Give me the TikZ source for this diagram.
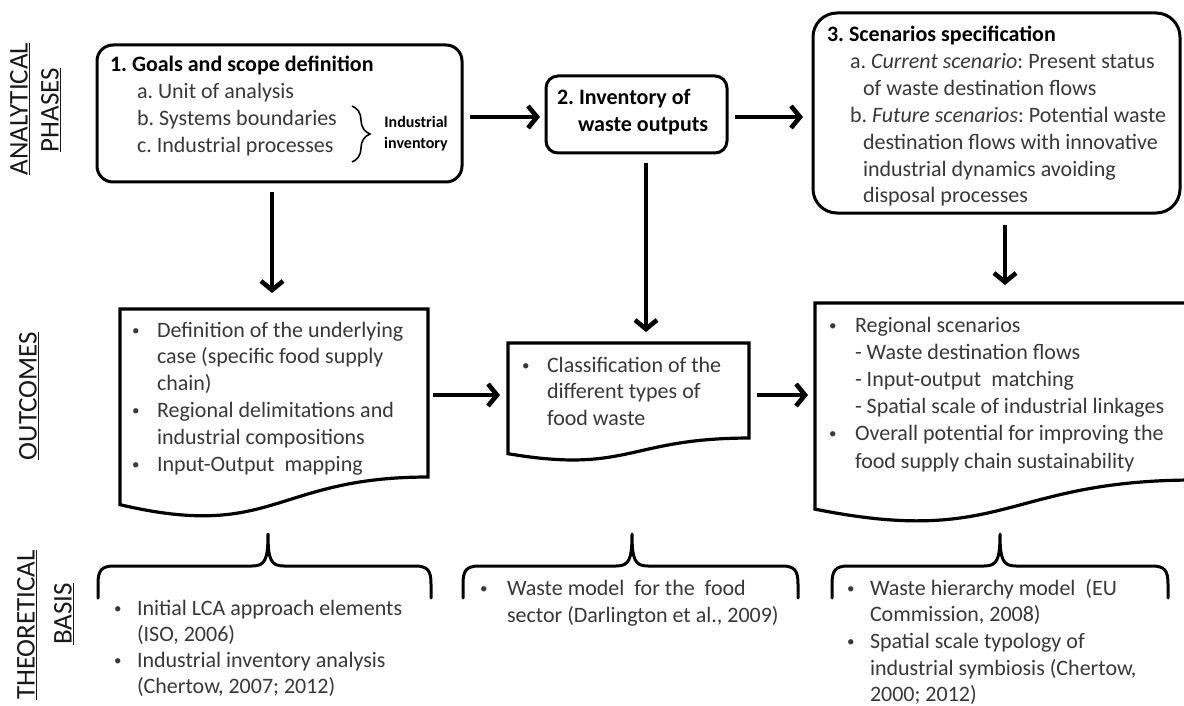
\documentclass[tikz,border=0pt]{standalone}
\usepackage{fontspec}
\setmainfont{Carlito}
\usetikzlibrary{arrows.meta,calc,decorations.pathreplacing}
\definecolor{txt}{HTML}{383838}
\frenchspacing
\newcommand{\bul}{\raisebox{2pt}{\fontsize{15}{15}\selectfont\textbullet}}
\tikzset{
  every node/.style={inner sep=0pt, outer sep=0pt},
  rbox/.style={draw=black, line width=3pt, rounded corners=#1, anchor=north west},
  docarea/.style={anchor=north west},
  docline/.style={draw=black, line width=3.2pt, line join=miter},
  arr/.style={line width=4.6pt, -{Straight Barb[length=9pt,width=22pt]}},
  brc/.style={draw=black, line width=3pt, line cap=round, line join=round},
  bodytxt/.style={font=\fontsize{22}{26.8}\selectfont, text=txt, anchor=base west, align=left},
  ttltxt/.style={font=\fontsize{22}{27}\selectfont\bfseries, text=black, anchor=base west},
  sidelbl/.style={font=\fontsize{27}{30}\selectfont, rotate=90, text=black!90},
}
\newcommand{\docshape}[5]{%
  \node[docarea, minimum width=#4pt, minimum height=#5pt] (#1) at (#2,#3) {};
  \draw[docline] (#1.north west) -- (#1.north east)
    -- ($(#1.north east)!0.802!(#1.south east)$)
    .. controls ($(#1.north)!0.802!(#1.south)$) and ($(#1.north)!1.107!(#1.south)$)
    .. ($(#1.north west)!0.934!(#1.south west)$) -- cycle;}
\newcommand{\upbrace}[3]{%
  \draw[brc] (#1,598) -- (#1,584) .. controls (#1,571) and (#1+3,566) .. (#1+16,566)
    -- (#2-16,566) .. controls (#2-3,566) and (#2,560) .. (#2,534)
    .. controls (#2,560) and (#2+3,566) .. (#2+16,566)
    -- (#3-16,566) .. controls (#3-3,566) and (#3,571) .. (#3,584) -- (#3,598);}
\begin{document}
\begin{tikzpicture}[x=1pt,y=-1pt]
\useasboundingbox (0,0) rectangle (1184,706);
\fill[white] (0,0) rectangle (1184,706);

% side labels
\node[sidelbl] (lblA) at (20,109) {\underline{ANALYTICAL}};
\node[sidelbl] (lblP) at (51,110) {\underline{PHASES}};
\node[sidelbl] (lblO) at (29,396) {\underline{OUTCOMES}};
\node[sidelbl] (lblT) at (27,625) {\underline{THEORETICAL}};
\node[sidelbl] (lblB) at (64,614) {\underline{BASIS}};

% analytical phases boxes
\node[rbox=16pt, minimum width=365pt, minimum height=137pt] (box1) at (97,45) {};
\node[rbox=12pt, minimum width=181pt, minimum height=77pt] (box2) at (546,76) {};
\node[rbox=24pt, minimum width=367pt, minimum height=200pt] (box3) at (813,13) {};

% box 1 text
\node[ttltxt] (b1t) at (110,72) {1. Goals and scope definition};
\node[bodytxt] (b1i) at (137,99) {\begin{tabular}[t]{@{}l@{}}a. Unit of analysis\\ b. Systems boundaries\\ c. Industrial processes\end{tabular}};
\draw[draw=black, line width=1.6pt, decorate, decoration={brace, amplitude=18pt, aspect=0.5}] (352,106) -- (352,162);
\node[font=\fontsize{16}{21}\selectfont\bfseries, align=center] (b1inv) at (416,134) {Industrial\\inventory};

% box 2 text
\node[ttltxt] (b2t) at (557,105) {\begin{tabular}[t]{@{}l@{}}2. Inventory of\\ \hspace{21pt}waste outputs\end{tabular}};

% box 3 text
\node[ttltxt] (b3t) at (827,42) {3. Scenarios specification};
\node[bodytxt] (b3i) at (850,69) {\begin{tabular}[t]{@{}l@{}}a. \textit{Current scenario}: Present status\\
\hspace{13pt}of waste destination flows\\
b. \textit{Future scenarios}: Potential waste\\
\hspace{13pt}destination flows with innovative\\
\hspace{13pt}industrial dynamics avoiding\\
\hspace{13pt}disposal processes\end{tabular}};

% outcome documents
\docshape{doc1}{120}{309}{308}{209.5}
\docshape{doc2}{508}{343}{241}{118.5}
\docshape{doc3}{815}{303}{380}{220.7}

\node[bodytxt] (d1t) at (132,337) {\begin{tabular}[t]{@{}p{25pt}@{}l@{}}
\bul & Definition of the underlying\\
 & case (specific food supply\\
 & chain)\\
\bul & Regional delimitations and\\
 & industrial compositions\\
\bul & Input-Output\ \ mapping\end{tabular}};

\node[bodytxt] (d2t) at (522,372) {\begin{tabular}[t]{@{}p{25pt}@{}l@{}}
\bul & Classification of the\\
 & different types of\\
 & food waste\end{tabular}};

\node[bodytxt, font=\fontsize{22}{27.2}\selectfont] (d3t) at (829,332) {\begin{tabular}[t]{@{}p{26pt}@{}l@{}}
\bul & Regional scenarios\\
 & - Waste destination flows\\
 & - Input-output\ \ matching\\
 & - Spatial scale of industrial linkages\\
\bul & Overall potential for improving the\\
 & food supply chain sustainability\end{tabular}};

% theoretical basis braces and text
\upbrace{98}{268}{431}
\upbrace{463}{632}{798}
\upbrace{832}{1000}{1168}

\node[bodytxt, font=\fontsize{22}{26.3}\selectfont] (t1) at (114,615) {\begin{tabular}[t]{@{}p{23pt}@{}l@{}}
\bul & Initial LCA approach elements\\
 & (ISO, 2006)\\
\bul & Industrial inventory analysis\\
 & (Chertow, 2007; 2012)\end{tabular}};

\node[bodytxt, font=\fontsize{22}{27}\selectfont] (t2) at (480,595) {\begin{tabular}[t]{@{}p{27pt}@{}l@{}}
\bul & Waste model\ \ for the\ \ food\\
 & sector (Darlington et al., 2009)\end{tabular}};

\node[bodytxt, font=\fontsize{22}{26.7}\selectfont] (t3) at (847,595) {\begin{tabular}[t]{@{}p{23pt}@{}l@{}}
\bul & Waste hierarchy model\ \ (EU\\
 & Commission, 2008)\\
\bul & Spatial scale typology of\\
 & industrial symbiosis (Chertow,\\
 & 2000; 2012)\end{tabular}};

% connectors
\coordinate (r1) at (0,117);
\coordinate (r2) at (0,395);
\draw[arr, shorten <=8pt, shorten >=6pt] (box1.east |- r1) -- (box2.west |- r1);
\draw[arr, shorten <=8pt, shorten >=10pt] (box2.east |- r1) -- (box3.west |- r1);
\draw[arr, shorten <=10pt, shorten >=16pt] ([xshift=-7.5pt]box1.south) -- ([xshift=-7.5pt]box1.south |- doc1.north);
\draw[arr, shorten <=10pt, shorten >=11pt] ([xshift=9.5pt]box2.south) -- ([xshift=9.5pt]box2.south |- doc2.north);
\draw[arr, shorten <=12pt, shorten >=18pt] ([xshift=8.5pt]box3.south) -- ([xshift=8.5pt]box3.south |- doc3.north);
\draw[arr, shorten <=5pt, shorten >=8pt] (doc1.east |- r2) -- (doc2.west |- r2);
\draw[arr, shorten <=8pt, shorten >=7pt] (doc2.east |- r2) -- (doc3.west |- r2);
\end{tikzpicture}
\end{document}
